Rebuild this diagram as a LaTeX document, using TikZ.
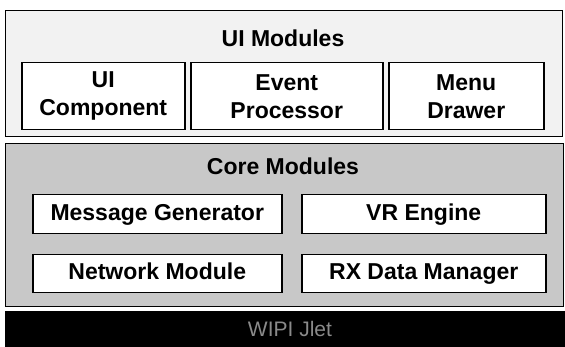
\documentclass[tikz,border=0pt]{standalone}
\usepackage{fontspec}
\setmainfont{Liberation Sans}
\definecolor{uifill}{HTML}{F2F2F2}
\definecolor{corefill}{HTML}{C8C8C8}
\definecolor{dimtext}{HTML}{8A8A8A}

\begin{document}
\begin{tikzpicture}[
    x=1pt, y=-1pt,
    every node/.style={font=\fontsize{23}{28}\selectfont\bfseries, align=center},
    % Layer frame
    layer/.style={rectangle, draw=black, line width=1.2pt, anchor=north west,
                  inner sep=0pt},
    % Module box
    modbox/.style={rectangle, draw=black, line width=1.5pt, fill=white,
                   anchor=north west, inner sep=0pt},
    oneline/.style={text height=17pt, text depth=5pt},
    ttl/.style={font=\fontsize{23}{28}\selectfont\bfseries}
]
\useasboundingbox (0,0) rectangle (565,347);
\fill[white] (0,0) rectangle (565,347);

% ========== UI layer ==========
\node[layer, fill=uifill, minimum width=557pt, minimum height=126pt] (uilayer) at (5,10) {};
\node[ttl] (uititle) at (283,38) {UI Modules};

\node[modbox, minimum width=163pt, minimum height=67pt] (uicomp) at (21,62) {UI\\Component};
\node[modbox, minimum width=192pt, minimum height=67pt] (evproc) at (190,62) {Event\\Processor};
\node[modbox, minimum width=155pt, minimum height=67pt] (menudr) at (388,62) {Menu\\Drawer};

% ========== Core layer ==========
\node[layer, fill=corefill, minimum width=558pt, minimum height=163pt] (corelayer) at (5,143) {};
\node[ttl] (coretitle) at (283,166) {Core Modules};

\node[modbox, oneline, minimum width=249pt, minimum height=39pt] (msggen) at (32,194) {Message Generator};
\node[modbox, oneline, minimum width=244pt, minimum height=39pt] (vreng) at (301,194) {VR Engine};
\node[modbox, oneline, minimum width=249pt, minimum height=38pt] (netmod) at (32,254) {Network Module};
\node[modbox, oneline, minimum width=244pt, minimum height=38pt] (rxdata) at (301,254) {RX Data Manager};

% ========== Platform bar ==========
\node[rectangle, fill=black, anchor=north west, inner sep=0pt,
      minimum width=560pt, minimum height=36pt] (platform) at (5,311) {};
\node[text=dimtext, font=\fontsize{21}{24}\selectfont] (platlabel) at (290,329) {WIPI Jlet};

\end{tikzpicture}
\end{document}
